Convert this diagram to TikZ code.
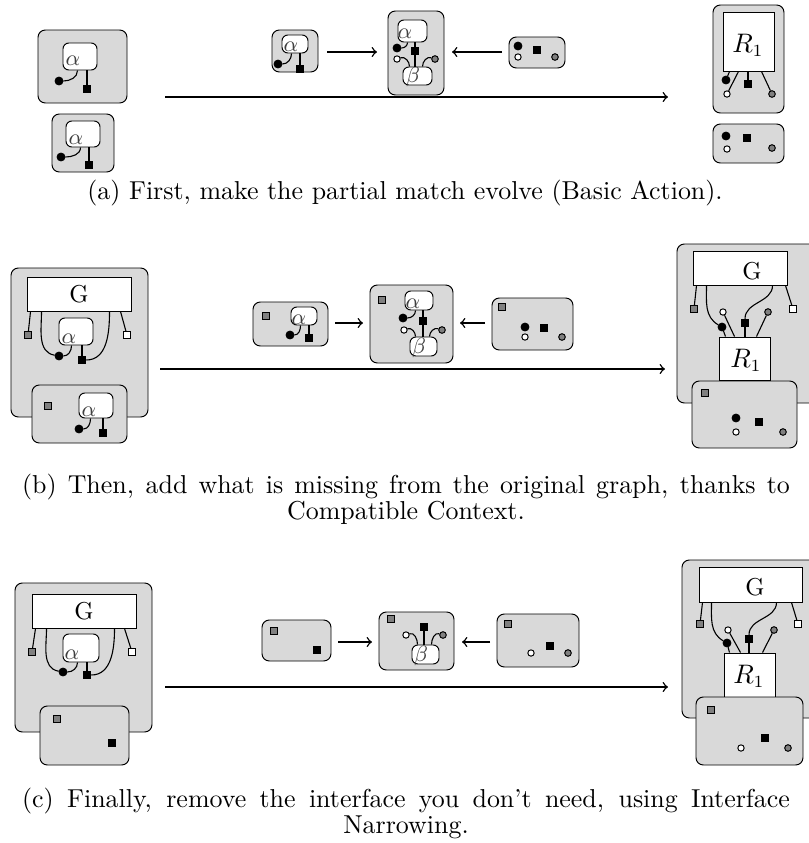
\documentclass[tikz,border=0pt]{standalone}
\usetikzlibrary{fit,calc}
\definecolor{bg}{gray}{0.85}
\definecolor{dotgray}{gray}{0.5}
\begin{document}
\begin{tikzpicture}[x=0.409pt,y=-0.409pt,
  outer/.style={draw, fill=bg, rounded corners=3pt, inner sep=0pt},
  abox/.style={draw, fill=white, rounded corners=2.4pt, inner sep=0pt},
  rbox/.style={draw, fill=white, inner sep=0pt},
  bdot/.style={circle, draw, fill=black, inner sep=0pt, minimum size=3.2pt},
  wdot/.style={circle, draw, fill=white, inner sep=0pt, minimum size=2.6pt},
  gdot/.style={circle, draw, fill=dotgray, inner sep=0pt, minimum size=2.7pt},
  bsq/.style={rectangle, draw, fill=black, inner sep=0pt, minimum size=3.1pt},
  gsq/.style={rectangle, draw, fill=dotgray, inner sep=0pt, minimum size=2.6pt},
  wsq/.style={rectangle, draw, fill=white, inner sep=0pt, minimum size=2.6pt},
  wire/.style={line width=0.45pt},
  trunk/.style={line width=0.7pt},
  arr/.style={->, line width=0.6pt},
  glab/.style={font=\fontsize{10}{11}\selectfont, inner sep=0pt},
  mlab/.style={text=black!75, font=\fontsize{9}{10}\selectfont, inner sep=0pt},
  rlab/.style={font=\fontsize{10.5}{12}\selectfont, inner sep=0pt},
  captext/.style={font=\fontsize{10.6}{10.63}\selectfont, inner sep=0pt, align=center}
]
\useasboundingbox (0,0) rectangle (809,843);

%================ (a) ================
% left big
\node[outer, fit={(38,30) (127,103)}] (aL) {};
\node[abox, fit={(63,43) (97,70)}] (aLal) {};
\node[mlab] (aLa) at (73,61) {$\alpha$};
\node[bdot] (aLd) at (59,81) {};
\node[bsq] (aLs) at (87,89) {};
\draw[wire] (aLd) to[out=0,in=-90] ($(aLal.south west)+(15,0)$);
\draw[wire] (aLal.south -| aLs) -- (aLs);
% left lower
\node[outer, fit={(52,114) (114,172)}] (aL2) {};
\node[abox, fit={(66,121) (100,147)}] (aL2al) {};
\node[mlab] (aL2a) at (76,140) {$\alpha$};
\node[bdot] (aL2d) at (61,157) {};
\node[bsq] (aL2s) at (89,165) {};
\draw[wire] (aL2d) to[out=0,in=-90] ($(aL2al.south west)+(15,0)$);
\draw[wire] (aL2al.south -| aL2s) -- (aL2s);
% middle left
\node[outer, fit={(272,30) (318,72)}] (aM1) {};
\node[abox, fit={(282,35) (308,53)}] (aM1al) {};
\node[mlab] (aM1a) at (291,47) {$\alpha$};
\node[bdot] (aM1d) at (278,64) {};
\node[bsq] (aM1s) at (300,69) {};
\draw[wire] (aM1d) to[out=0,in=-90] ($(aM1al.south west)+(10,0)$);
\draw[wire] (aM1al.south -| aM1s) -- (aM1s);
% arrows middle
\coordinate (aR1s) at (327,52); \coordinate (aR1e) at (377,52);
\draw[arr] (aR1s) -- (aR1e);
\coordinate (aR2s) at (502,52); \coordinate (aR2e) at (452,52);
\draw[arr] (aR2s) -- (aR2e);
% middle tall
\node[outer, fit={(388,11) (444,95)}] (aM2) {};
\node[abox, fit={(398,20) (427,42)}] (aM2al) {};
\node[mlab] (aM2a) at (405,34) {$\alpha$};
\node[abox, fit={(403,67) (432,85)}] (aM2be) {};
\node[mlab] (aM2b) at (413,77) {$\beta$};
\node[bdot] (aM2d) at (397,48) {};
\node[bsq] (aM2s) at (415,51) {};
\node[wdot] (aM2w) at (397,59) {};
\node[gdot] (aM2g) at (435,59) {};
\draw[wire] (aM2d) to[out=0,in=-90] ($(aM2al.south west)+(10,0)$);
\draw[trunk] (aM2al.south -| aM2s) -- (aM2s);
\draw[trunk] (aM2s) -- (aM2be.north -| aM2s);
\draw[wire] (aM2w) to[out=20,in=90] ($(aM2be.north west)+(7,0)$);
\draw[wire] (aM2g) to[out=160,in=90] ($(aM2be.north west)+(20,0)$);
% middle right
\node[outer, fit={(509,37) (565,68)}] (aM3) {};
\node[bdot] (aM3d) at (518,46) {};
\node[wdot] (aM3w) at (518,57) {};
\node[bsq] (aM3s) at (537,50) {};
\node[gdot] (aM3g) at (555,57) {};
% long arrow
\coordinate (aLs1) at (165,97); \coordinate (aLs2) at (668,97);
\draw[arr] (aLs1) -- (aLs2);
% right tall
\node[outer, fit={(713,5) (784,113)}] (aR) {};
\node[rbox, fit={(723,12) (774,71)}] (aRr) {};
\node[rlab] (aRrl) at (748,45) {$R_1$};
\node[bdot] (aRd) at (726,80) {};
\node[wdot] (aRw) at (727,94) {};
\node[bsq] (aRs) at (748,84) {};
\node[gdot] (aRg) at (772,94) {};
\draw[wire] ($(aRr.south west)+(7,0)$) -- (aRd);
\draw[wire] ($(aRr.south west)+(16,0)$) -- (aRw);
\draw[wire] (aRr.south -| aRs) -- (aRs);
\draw[wire] ($(aRr.south west)+(39,0)$) -- (aRg);
% right lower
\node[outer, fit={(713,124) (784,163)}] (aR2) {};
\node[bdot] (aR2d) at (726,136) {};
\node[wdot] (aR2w) at (727,149) {};
\node[bsq] (aR2s) at (747,138) {};
\node[gdot] (aR2g) at (772,148) {};
% caption
\node[captext] (capa) at (405,193) {(a) First, make the partial match evolve (Basic Action).};

%================ (b) ================
\node[outer, fit={(11,268) (148,417)}] (bL) {};
\node[rbox, fit={(27,277) (131,311)}] (bLG) {};
\node[glab] (bLGl) at (79,294) {G};
\node[abox, fit={(59,318) (93,345)}] (bLal) {};
\node[mlab] (bLa) at (69,339) {$\alpha$};
\node[gsq] (bLq1) at (28,335) {};
\node[wsq] (bLq2) at (127,335) {};
\node[bdot] (bLd) at (59,356) {};
\node[bsq] (bLs) at (82,360) {};
\draw[wire] ($(bLG.south west)+(4,0)$) -- (bLq1);
\draw[wire] ($(bLG.south west)+(94,0)$) -- (bLq2);
\draw[wire] ($(bLG.south west)+(15,0)$) to[out=-90,in=170] (bLd);
\draw[wire] (bLd) to[out=0,in=-90] ($(bLal.south west)+(13,0)$);
\draw[wire] (bLal.south -| bLs) -- (bLs);
\draw[wire] (bLs) to[out=0,in=-90] ($(bLG.south west)+(83,0)$);
% lower
\node[outer, fit={(32,385) (127,443)}] (bL2) {};
\node[gsq] (bL2q) at (48,406) {};
\node[abox, fit={(79,393) (113,418)}] (bL2al) {};
\node[mlab] (bL2a) at (89,412) {$\alpha$};
\node[bdot] (bL2d) at (79,429) {};
\node[bsq] (bL2s) at (103,433) {};
\draw[wire] (bL2d) to[out=0,in=-90] ($(bL2al.south west)+(12,0)$);
\draw[wire] (bL2al.south -| bL2s) -- (bL2s);
% middle left
\node[outer, fit={(253,302) (328,346)}] (bM1) {};
\node[gsq] (bM1q) at (266,316) {};
\node[abox, fit={(291,307) (317,325)}] (bM1al) {};
\node[mlab] (bM1a) at (299,320) {$\alpha$};
\node[bdot] (bM1d) at (290,335) {};
\node[bsq] (bM1s) at (309,338) {};
\draw[wire] (bM1d) to[out=0,in=-90] ($(bM1al.south west)+(10,0)$);
\draw[wire] (bM1al.south -| bM1s) -- (bM1s);
\coordinate (bR1s) at (335,323); \coordinate (bR1e) at (363,323);
\draw[arr] (bR1s) -- (bR1e);
\coordinate (bR2s) at (485,323); \coordinate (bR2e) at (460,323);
\draw[arr] (bR2s) -- (bR2e);
% middle
\node[outer, fit={(370,285) (453,363)}] (bM2) {};
\node[gsq] (bM2q) at (382,300) {};
\node[abox, fit={(405,291) (433,310)}] (bM2al) {};
\node[mlab] (bM2a) at (413,304) {$\alpha$};
\node[abox, fit={(410,337) (437,356)}] (bM2be) {};
\node[mlab] (bM2b) at (419,348) {$\beta$};
\node[bdot] (bM2d) at (403,318) {};
\node[bsq] (bM2s) at (423,321) {};
\node[wdot] (bM2w) at (404,330) {};
\node[gdot] (bM2g) at (442,330) {};
\draw[wire] (bM2d) to[out=0,in=-90] ($(bM2al.south west)+(11,0)$);
\draw[trunk] (bM2al.south -| bM2s) -- (bM2s);
\draw[trunk] (bM2s) -- (bM2be.north -| bM2s);
\draw[wire] (bM2w) to[out=20,in=90] ($(bM2be.north west)+(6,0)$);
\draw[wire] (bM2g) to[out=160,in=90] ($(bM2be.north west)+(20,0)$);
% middle right
\node[outer, fit={(492,298) (573,350)}] (bM3) {};
\node[gsq] (bM3q) at (502,307) {};
\node[bdot] (bM3d) at (525,327) {};
\node[wdot] (bM3w) at (525,337) {};
\node[bsq] (bM3s) at (544,328) {};
\node[gdot] (bM3g) at (562,337) {};
% long arrow
\coordinate (bLs1) at (160,369); \coordinate (bLs2) at (665,369);
\draw[arr] (bLs1) -- (bLs2);
% right
\node[outer, fit={(677,244) (818,403)}] (bR) {};
\node[rbox, fit={(693,251) (787,285)}] (bRG) {};
\node[glab] (bRGl) at (752,271) {G};
\node[rbox, fit={(719,337) (770,380)}] (bRr) {};
\node[rlab] (bRrl) at (746,360) {$R_1$};
\node[gsq] (bRq1) at (694,309) {};
\node[wsq] (bRq2) at (793,309) {};
\node[bdot] (bRd) at (722,327) {};
\node[wdot] (bRw) at (723,312) {};
\node[bsq] (bRs) at (745,323) {};
\node[gdot] (bRg) at (768,312) {};
\draw[wire] ($(bRG.south west)+(4,0)$) -- (bRq1);
\draw[wire] ($(bRG.south west)+(93,0)$) -- (bRq2);
\draw[wire] ($(bRG.south west)+(14,0)$) to[out=-90,in=150] (bRd);
\draw[wire] (bRd) -- ($(bRr.north west)+(7,0)$);
\draw[wire] (bRw) -- ($(bRr.north west)+(16,0)$);
\draw[wire] (bRs) -- (bRr.north -| bRs);
\draw[wire] (bRs) to[out=90,in=-90] ($(bRG.south west)+(80,0)$);
\draw[wire] (bRg) -- ($(bRr.north west)+(38,0)$);
% right lower
\node[outer, fit={(692,381) (797,448)}] (bR2) {};
\node[gsq] (bR2q) at (705,393) {};
\node[bdot] (bR2d) at (736,418) {};
\node[wdot] (bR2w) at (736,432) {};
\node[bsq] (bR2s) at (759,422) {};
\node[gdot] (bR2g) at (783,432) {};
% caption
\node[captext] (capb) at (406,499) {\makebox[314pt][s]{(b) Then, add what is missing from the original graph, thanks to}\\Compatible Context.};

%================ (c) ================
\node[outer, fit={(15,583) (152,732)}] (cL) {};
\node[rbox, fit={(32,594) (136,628)}] (cLG) {};
\node[glab] (cLGl) at (84,611) {G};
\node[abox, fit={(63,634) (99,662)}] (cLal) {};
\node[mlab] (cLa) at (72,655) {$\alpha$};
\node[gsq] (cLq1) at (32,652) {};
\node[wsq] (cLq2) at (132,652) {};
\node[bdot] (cLd) at (63,672) {};
\node[bsq] (cLs) at (87,675) {};
\draw[wire] ($(cLG.south west)+(4,0)$) -- (cLq1);
\draw[wire] ($(cLG.south west)+(93,0)$) -- (cLq2);
\draw[wire] ($(cLG.south west)+(15,0)$) to[out=-90,in=170] (cLd);
\draw[wire] (cLd) to[out=0,in=-90] ($(cLal.south west)+(15,0)$);
\draw[wire] (cLal.south -| cLs) -- (cLs);
\draw[wire] (cLs) to[out=0,in=-90] ($(cLG.south west)+(83,0)$);
% lower
\node[outer, fit={(40,706) (129,765)}] (cL2) {};
\node[gsq] (cL2q) at (57,719) {};
\node[bsq] (cL2s) at (112,743) {};
% middle left
\node[outer, fit={(262,620) (331,661)}] (cM1) {};
\node[gsq] (cM1q) at (274,631) {};
\node[bsq] (cM1s) at (317,650) {};
\coordinate (cR1s) at (338,642); \coordinate (cR1e) at (372,642);
\draw[arr] (cR1s) -- (cR1e);
\coordinate (cR2s) at (490,642); \coordinate (cR2e) at (462,642);
\draw[arr] (cR2s) -- (cR2e);
% middle
\node[outer, fit={(379,612) (454,670)}] (cM2) {};
\node[gsq] (cM2q) at (391,619) {};
\node[abox, fit={(412,645) (439,664)}] (cM2be) {};
\node[mlab] (cM2b) at (421,656) {$\beta$};
\node[bsq] (cM2s) at (424,627) {};
\node[wdot] (cM2w) at (406,635) {};
\node[gdot] (cM2g) at (443,635) {};
\draw[trunk] (cM2s) -- (cM2be.north -| cM2s);
\draw[wire] (cM2w) to[out=20,in=90] ($(cM2be.north west)+(6,0)$);
\draw[wire] (cM2g) to[out=160,in=90] ($(cM2be.north west)+(20,0)$);
% middle right
\node[outer, fit={(497,614) (579,667)}] (cM3) {};
\node[gsq] (cM3q) at (508,624) {};
\node[wdot] (cM3w) at (531,653) {};
\node[bsq] (cM3s) at (550,646) {};
\node[gdot] (cM3g) at (568,653) {};
% long arrow
\coordinate (cLs1) at (165,687); \coordinate (cLs2) at (668,687);
\draw[arr] (cLs1) -- (cLs2);
% right
\node[outer, fit={(682,560) (818,718)}] (cR) {};
\node[rbox, fit={(699,567) (802,602)}] (cRG) {};
\node[glab] (cRGl) at (755,587) {G};
\node[rbox, fit={(724,653) (775,697)}] (cRr) {};
\node[rlab] (cRrl) at (749,676) {$R_1$};
\node[gsq] (cRq1) at (700,624) {};
\node[wsq] (cRq2) at (798,624) {};
\node[bdot] (cRd) at (727,643) {};
\node[wdot] (cRw) at (728,630) {};
\node[bsq] (cRs) at (749,639) {};
\node[gdot] (cRg) at (774,630) {};
\draw[wire] ($(cRG.south west)+(4,0)$) -- (cRq1);
\draw[wire] ($(cRG.south west)+(93,0)$) -- (cRq2);
\draw[wire] ($(cRG.south west)+(13,0)$) to[out=-90,in=150] (cRd);
\draw[wire] (cRd) -- ($(cRr.north west)+(6,0)$);
\draw[wire] (cRw) -- ($(cRr.north west)+(17,0)$);
\draw[wire] (cRs) -- (cRr.north -| cRs);
\draw[wire] (cRs) to[out=90,in=-90] ($(cRG.south west)+(78,0)$);
\draw[wire] (cRg) -- ($(cRr.north west)+(39,0)$);
% right lower
\node[outer, fit={(696,697) (803,765)}] (cR2) {};
\node[gsq] (cR2q) at (711,710) {};
\node[wdot] (cR2w) at (741,748) {};
\node[bsq] (cR2s) at (765,738) {};
\node[gdot] (cR2g) at (788,748) {};
% caption
\node[captext] (capc) at (406,813) {\makebox[314pt][s]{(c) Finally, remove the interface you don't need, using Interface}\\Narrowing.};
\end{tikzpicture}
\end{document}
